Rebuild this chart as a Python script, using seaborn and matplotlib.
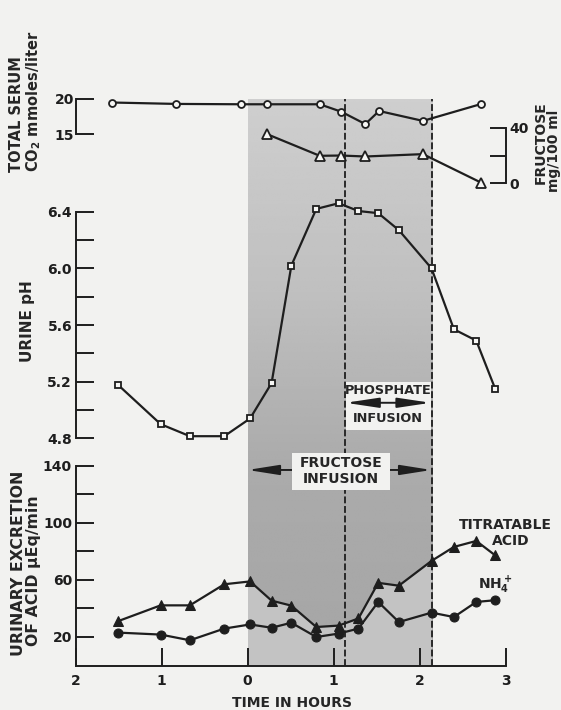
import numpy as np
import matplotlib
matplotlib.use("Agg")
import matplotlib.pyplot as plt
from matplotlib.patches import Rectangle
import seaborn as sns

# serum values (top panel)
co2_hours = [-1.58, -0.83, -0.07, 0.23, 0.84, 1.09, 1.37, 1.53, 2.04, 2.72]
co2_values = [19.5, 19.3, 19.25, 19.25, 19.25, 18.2, 16.45, 18.3, 16.9, 19.3]
fructose_hours = [0.23, 0.84, 1.09, 1.37, 2.04, 2.72]
fructose_values = [35.3, 19.8, 20.0, 19.3, 21.0, 0.4]

# urine collections (middle and bottom panels)
urine_hours = [-1.51, -1.01, -0.67, -0.27, 0.03, 0.28, 0.51, 0.80, 1.06,
               1.29, 1.52, 1.76, 2.14, 2.40, 2.66, 2.88]
urine_ph = [5.18, 4.90, 4.815, 4.815, 4.94, 5.19, 6.02, 6.42, 6.46,
            6.405, 6.39, 6.27, 6.0, 5.57, 5.49, 5.15]
titratable_acid = [31, 42.2, 42.2, 57, 59, 45.5, 42, 27, 28,
                   33, 58, 56, 73.4, 83.2, 87.4, 77.3]
nh4 = [23.1, 21.7, 17.7, 25.9, 28.8, 26.5, 30, 20, 22.4,
       25.9, 44.6, 30.5, 37.1, 34, 44.6, 45.8]

time_ticks = [-2, -1, 0, 1, 2, 3]
time_labels = ["2", "1", "0", "1", "2", "3"]
ph_ticks = [4.8, 5.0, 5.2, 5.4, 5.6, 5.8, 6.0, 6.2, 6.4]
ph_labels = ["4.8", "", "5.2", "", "5.6", "", "6.0", "", "6.4"]
acid_ticks = [20, 40, 60, 80, 100, 120, 140]
acid_labels = ["20", "", "60", "", "100", "", "140"]
co2_ticks = [15, 20]
fructose_ticks = [0, 20, 40]
fructose_labels = ["0", "", "40"]

fructose_start = 0.0
phosphate_start = 1.13
infusion_end = 2.14

PAPER = "#f2f2f0"
INK = "#1e1e1e"
LOW_SHADE = "#c3c3c3"

sns.set_style("ticks")
plt.rcParams["font.family"] = ["DejaVu Sans"]
plt.rcParams["font.weight"] = "bold"
plt.rcParams["mathtext.fontset"] = "dejavusans"
plt.rcParams["mathtext.default"] = "bf"
plt.rcParams["axes.linewidth"] = 1.4
plt.rcParams["axes.edgecolor"] = INK

W, H = 561, 710
X0, X1 = 75.5, 505.5


def axes_rect(top, bottom):
    return [X0 / W, 1 - bottom / H, (X1 - X0) / W, (bottom - top) / H]


def clean_axes(ax, keep):
    for side in ["left", "right", "top", "bottom"]:
        ax.spines[side].set_visible(side in keep)
    ax.set_facecolor("none")
    ax.set_xlim(-2, 3)
    ax.tick_params(direction="in", length=13, width=1.4, color=INK,
                   labelsize=10, labelcolor=INK, pad=2.5)


fig = plt.figure(figsize=(W / 100, H / 100), dpi=100, facecolor=PAPER)

# shaded infusion period (scan darkens toward the bottom), dashed phosphate limits
ax_bg = fig.add_axes(axes_rect(99, 665.5))
ax_bg.set_xlim(-2, 3)
ax_bg.set_ylim(0, 397.5)
ax_bg.axis("off")
levels = np.linspace(0, 397.5, 200)
shade = np.interp(levels, [0, 140, 260, 397.5], [0.65, 0.67, 0.75, 0.81])
ax_bg.imshow(shade[:, None], extent=(fructose_start, infusion_end, 0, 397.5),
             cmap="gray", vmin=0, vmax=1, aspect="auto", origin="lower",
             interpolation="bilinear")
fill_x = [fructose_start] + [t for t in urine_hours if fructose_start < t < infusion_end] + [infusion_end]
fill_y = np.interp(fill_x, urine_hours, titratable_acid)
ax_bg.fill_between(fill_x, 0, fill_y, color=LOW_SHADE, lw=0)
ax_bg.set_xlim(-2, 3)
ax_bg.set_ylim(0, 397.5)
for xv in [phosphate_start, infusion_end]:
    ax_bg.axvline(xv, color=INK, lw=1.3, dashes=(3.8, 1.5))

# bottom panel: urinary acid excretion
ax_acid = fig.add_axes(axes_rect(444.6, 665.5))
clean_axes(ax_acid, ["left", "bottom"])
ax_acid.set_ylim(0, 155)
ax_acid.spines["left"].set_bounds(0, 140)
ax_acid.set_yticks(acid_ticks, acid_labels)
ax_acid.set_xticks(time_ticks, time_labels)
ax_acid.tick_params(axis="x", pad=6)
sns.lineplot(x=urine_hours, y=titratable_acid, ax=ax_acid, color=INK, lw=1.6,
             marker="^", markersize=7.5, markerfacecolor=INK, markeredgecolor=INK)
sns.lineplot(x=urine_hours, y=nh4, ax=ax_acid, color=INK, lw=1.6,
             marker="o", markersize=6.5, markerfacecolor=INK, markeredgecolor=INK)
ax_acid.set_xlabel("")
ax_acid.set_ylabel("")

ax_acid.annotate("", xy=(fructose_start, 137.2), xytext=(infusion_end, 137.2),
                 arrowprops=dict(arrowstyle="<|-|>,head_length=1.9,head_width=0.3",
                                 color=INK, lw=1.4, shrinkA=0, shrinkB=0,
                                 mutation_scale=10), zorder=2)
ax_acid.add_patch(Rectangle((0.513, 123.2), 1.144, 25.7, facecolor=PAPER,
                            edgecolor="none", zorder=3))
ax_acid.text(1.085, 141.9, "FRUCTOSE", ha="center", va="center", fontsize=10, zorder=4)
ax_acid.text(1.085, 131.2, "INFUSION", ha="center", va="center", fontsize=10, zorder=4)
ax_acid.text(3.0, 98.6, "TITRATABLE", ha="center", va="center", fontsize=10)
ax_acid.text(3.064, 87.4, "ACID", ha="center", va="center", fontsize=10)
ax_acid.text(2.68, 56.5, r"NH$_4^+$", ha="left", va="center", fontsize=10)

# middle panel: urine pH
ax_ph = fig.add_axes(axes_rect(190.5, 445.4))
clean_axes(ax_ph, ["left"])
ax_ph.set_ylim(4.75, 6.55)
ax_ph.spines["left"].set_bounds(4.8, 6.4)
ax_ph.set_yticks(ph_ticks, ph_labels)
ax_ph.set_xticks([])
sns.lineplot(x=urine_hours, y=urine_ph, ax=ax_ph, color=INK, lw=1.6,
             marker="s", markersize=5, markerfacecolor="#f7f7f5",
             markeredgecolor=INK, markeredgewidth=1.3)
ax_ph.set_xlabel("")
ax_ph.set_ylabel("")

ax_ph.add_patch(Rectangle((1.145, 4.858), 0.985, 0.342, facecolor=PAPER,
                          edgecolor="none", zorder=3))
ax_ph.annotate("", xy=(phosphate_start + 0.01, 5.051), xytext=(infusion_end - 0.01, 5.051),
               arrowprops=dict(arrowstyle="<|-|>,head_length=2.0,head_width=0.3",
                               color=INK, lw=1.4, shrinkA=0, shrinkB=0,
                               mutation_scale=10), zorder=4)
ax_ph.text(1.637, 5.136, "PHOSPHATE", ha="center", va="center", fontsize=9.3, zorder=4)
ax_ph.text(1.637, 4.941, "INFUSION", ha="center", va="center", fontsize=9.3, zorder=4)

# top panel: serum CO2 and fructose
ax_co2 = fig.add_axes(axes_rect(91.9, 141.4))
clean_axes(ax_co2, ["left"])
ax_co2.set_ylim(14, 21)
ax_co2.spines["left"].set_bounds(15, 20)
ax_co2.set_yticks(co2_ticks)
ax_co2.set_xticks([])
ax_co2.tick_params(axis="y", pad=1)
sns.lineplot(x=co2_hours, y=co2_values, ax=ax_co2, color=INK, lw=1.6,
             marker="o", markersize=5, markerfacecolor="#f7f7f5",
             markeredgecolor=INK, markeredgewidth=1.3)
ax_co2.set_xlabel("")
ax_co2.set_ylabel("")

ax_fru = fig.add_axes(axes_rect(120.75, 190.3))
clean_axes(ax_fru, ["right"])
ax_fru.set_ylim(-5, 45)
ax_fru.spines["right"].set_bounds(0, 40)
ax_fru.yaxis.tick_right()
ax_fru.set_yticks(fructose_ticks, fructose_labels)
ax_fru.set_xticks([])
ax_fru.tick_params(axis="y", length=11.5, pad=3)
sns.lineplot(x=fructose_hours, y=fructose_values, ax=ax_fru, color=INK, lw=1.6,
             marker="^", markersize=7, markerfacecolor="#f7f7f5",
             markeredgecolor=INK, markeredgewidth=1.3)
ax_fru.set_xlabel("")
ax_fru.set_ylabel("")

# axis titles
def ftext(x, y, s, **kw):
    fig.text(x / W, 1 - y / H, s, **kw)

ftext(291.6, 703.3, "TIME IN HOURS", ha="center", va="center", fontsize=10)
ftext(16.5, 172, "TOTAL SERUM", rotation=90, ha="center", va="bottom", fontsize=10.5)
ftext(34, 172, r"CO$_2$ mmoles/liter", rotation=90, ha="center", va="bottom", fontsize=10.5)
ftext(27.7, 321, "URINE pH", rotation=90, ha="center", va="center", fontsize=11)
ftext(18.5, 563, "URINARY EXCRETION", rotation=90, ha="center", va="center", fontsize=11.3)
ftext(34, 571, "OF ACID \u03bcEq/min", rotation=90, ha="center", va="center", fontsize=11.3)
ftext(541, 184, "FRUCTOSE", rotation=90, ha="center", va="bottom", fontsize=10)
ftext(554, 192, "mg/100 ml", rotation=90, ha="center", va="bottom", fontsize=10)

fig.savefig("out.png", dpi=100, facecolor=fig.get_facecolor())
